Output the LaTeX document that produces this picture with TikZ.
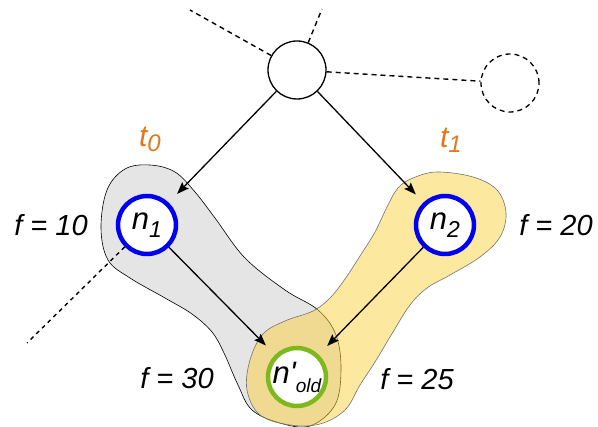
\documentclass[tikz,border=0pt]{standalone}
\usepackage{fontspec}
\setmainfont{Liberation Sans}
\usetikzlibrary{arrows.meta}
\definecolor{blobgray}{RGB}{229,229,229}
\definecolor{blobyellow}{RGB}{251,209,65}
\definecolor{ringblue}{RGB}{0,0,240}
\definecolor{ringgreen}{RGB}{125,185,30}
\definecolor{torange}{RGB}{226,120,28}
\newcommand{\mysub}[3]{\raisebox{-#1pt}{\fontsize{#2}{#2}\selectfont #3}}
\tikzset{
  plain/.style={circle,draw=black,line width=1.3pt,fill=white,minimum size=58pt,inner sep=0pt},
  ghost/.style={circle,draw=black,line width=1.3pt,dashed,dash pattern=on 5pt off 4pt,minimum size=58pt,inner sep=0pt},
  bluering/.style={circle,draw=ringblue,line width=4.5pt,fill=white,minimum size=58pt,inner sep=0pt,font=\fontsize{31}{36}\selectfont\itshape},
  greenring/.style={circle,draw=ringgreen,line width=4.5pt,fill=white,minimum size=58pt,inner sep=0pt,font=\fontsize{31}{36}\selectfont\itshape},
  flabel/.style={font=\fontsize{29}{34}\selectfont\itshape,inner sep=0pt},
  tlabel/.style={font=\fontsize{30}{34}\selectfont\itshape,text=torange,inner sep=0pt},
  edge/.style={line width=1.3pt,-{Stealth[length=12pt,width=9pt,inset=2pt]}},
  dashline/.style={line width=1.4pt,dash pattern=on 5pt off 4pt},
}
\begin{document}
\begin{tikzpicture}[x=1pt,y=-1pt]
\useasboundingbox (0,0) rectangle (598,427);
% blobs
\def\graypts{(107,190) (125,169) (150,165) (175,172) (195,192) (215,218) (245,258) (285,290) (318,310) (336,335) (341,370) (335,405) (310,426) (280,423) (252,410) (238,385) (224,353) (212,332) (192,314) (165,298) (130,278) (108,260) (101,228)}
\def\yellowpts{(413,178) (437,172) (473,177) (497,190) (506,213) (500,237) (480,257) (450,275) (427,288) (410,305) (393,332) (375,362) (360,385) (345,410) (320,424) (290,425) (260,415) (247,390) (250,360) (263,334) (285,321) (313,311) (330,298) (345,279) (360,256) (375,232) (387,207) (398,188)}
\fill[blobgray] plot[smooth cycle,tension=0.6] coordinates {\graypts};
\draw[black,line width=0.6pt] plot[smooth cycle,tension=0.6] coordinates {\graypts};
\fill[blobyellow,fill opacity=0.5] plot[smooth cycle,tension=0.6] coordinates {\yellowpts};
\draw[black!55,line width=0.6pt] plot[smooth cycle,tension=0.6] coordinates {\yellowpts};
% nodes
\node[plain] (top) at (297,70) {};
\node[ghost] (far) at (510,83) {};
\node[bluering] (n1) at (147,225) {n\mysub{8}{23}{1}};
\node[bluering] (n2) at (445,225) {n\mysub{8}{23}{2}};
\node[greenring] (nold) at (297,377) {n\textquotesingle\mysub{9}{19}{old}};
% free ends
\coordinate (ul) at (190,10);
\coordinate (up) at (322,9);
\coordinate (ll) at (27,343);
\draw[dashline] (top) -- (ul);
\draw[dashline] (top) -- (up);
\draw[dashline] (top) -- (far);
\draw[dashline,dash pattern=on 4pt off 4pt] (n1) -- (ll);
% arrows
\draw[edge,shorten >=12pt] (top) -- (n1);
\draw[edge,shorten >=11pt] (top) -- (n2);
\draw[edge,shorten >=13pt] (n1) -- (nold);
\draw[edge,shorten >=12pt] (n2) -- (nold);
% labels
\node[flabel] (f10) at (51,225) {f = 10};
\node[flabel] (f20) at (556,225) {f = 20};
\node[flabel] (f30) at (177,378) {f = 30};
\node[flabel] (f25) at (417,379) {f = 25};
\node[tlabel] (t0) at (150,139) {t\mysub{5}{24}{0}};
\node[tlabel] (t1) at (451,140) {t\mysub{5}{24}{1}};
\end{tikzpicture}
\end{document}
